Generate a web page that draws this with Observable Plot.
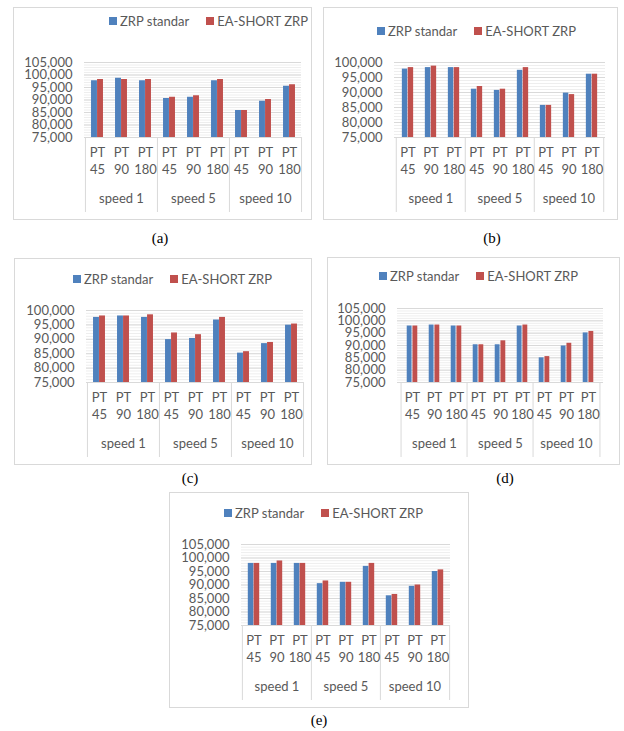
<!DOCTYPE html>
<html>
<head>
<meta charset="utf-8">
<script src="https://cdn.jsdelivr.net/npm/d3@7"></script>
<script src="https://cdn.jsdelivr.net/npm/@observablehq/plot@0.6"></script>
<style>
  html, body { margin: 0; padding: 0; background: #fff; }
  #page { position: relative; width: 624px; height: 731px; overflow: hidden; font-family: Lato, "Open Sans", sans-serif; }
  .frame { position: absolute; border: 1px solid #d9d9d9; box-sizing: border-box; }
  .legend { position: absolute; display: flex; align-items: center; height: 18px; font-size: 13px; color: #595959; white-space: nowrap; }
  .legend .sw { width: 8px; height: 8px; margin-right: 3px; }
  .legend .gap { width: 17px; }
  .caption { position: absolute; transform: translate(-50%, -50%); font-family: "Liberation Serif", "DejaVu Serif", serif; font-size: 15px; color: #000; }
  .chart { position: absolute; }
</style>
</head>
<body>
<div id="page"></div>
<script>
// Categories
const speeds = ["speed 1", "speed 5", "speed 10"];
const pts = ["PT 45", "PT 90", "PT 180"];
const series = ["ZRP standar", "EA-SHORT ZRP"];

// Values per panel, ordered speed 1 (PT 45, 90, 180), speed 5 (...), speed 10 (...)
const zrpA = [97700, 98700, 97700, 90600, 91100, 97700, 85800, 89500, 95500];
const eaA  = [98200, 98200, 98200, 91100, 91700, 98200, 85800, 90200, 96100];

const zrpB = [97800, 98300, 98300, 91100, 90700, 97400, 85700, 89800, 96100];
const eaB  = [98300, 98800, 98300, 92000, 91100, 98300, 85700, 89300, 96100];

const zrpC = [97600, 98100, 97600, 89900, 90300, 96700, 85200, 88500, 94900];
const eaC  = [98100, 98100, 98500, 92200, 91600, 97600, 85700, 88900, 95300];

const zrpD = [97900, 98300, 97900, 90300, 90300, 97900, 85000, 89800, 95100];
const eaD  = [97900, 98300, 97900, 90300, 91900, 98300, 85500, 90900, 95700];

const zrpE = [98000, 98000, 98000, 90500, 91000, 96900, 86000, 89500, 95000];
const eaE  = [98000, 98900, 98000, 91500, 91000, 98000, 86500, 90000, 95600];

// Axis range
const yMin = 75000;
const yMaxes = [105000, 100000, 100000, 105000, 105000];
const captions = ["(a)", "(b)", "(c)", "(d)", "(e)"];

const colors = {"ZRP standar": "#4f81bd", "EA-SHORT ZRP": "#c0504d"};

// Panel placement on the page: frame box, plot box, legend anchor, caption anchor
const layout = [
  {frame: [13, 7, 312, 220],  plot: [84, 62, 301, 137],  legend: [109, 21],  caption: [160, 238]},
  {frame: [323, 7, 618, 220], plot: [394, 62, 605, 137], legend: [377, 31],  caption: [492, 238]},
  {frame: [14, 258, 312, 465], plot: [86, 310, 303, 382], legend: [73, 279],  caption: [190, 478]},
  {frame: [327, 257, 620, 465], plot: [397, 308, 603, 382], legend: [379, 276], caption: [505, 478]},
  {frame: [169, 492, 469, 708], plot: [241, 544, 450, 625], legend: [224, 513], caption: [319, 720]}
];

const panelValues = [[zrpA, eaA], [zrpB, eaB], [zrpC, eaC], [zrpD, eaD], [zrpE, eaE]];

const keys = speeds.flatMap(s => pts.map(p => `${s}|${p}`));
const page = document.getElementById("page");

function drawPanel(i) {
  const L = layout[i];
  const [zrp, ea] = panelValues[i];
  const yMax = yMaxes[i];
  const [fl, ft, fr, fb] = L.frame;
  const [pl, ptop, pr, pb] = L.plot;

  const frame = document.createElement("div");
  frame.className = "frame";
  Object.assign(frame.style, {left: fl + "px", top: ft + "px", width: (fr - fl) + "px", height: (fb - ft) + "px"});
  page.appendChild(frame);

  // Legend
  const legend = document.createElement("div");
  legend.className = "legend";
  legend.style.left = L.legend[0] + "px";
  legend.style.top = (L.legend[1] - 9) + "px";
  series.forEach((s, j) => {
    if (j > 0) { const g = document.createElement("span"); g.className = "gap"; legend.appendChild(g); }
    const sw = document.createElement("span");
    sw.className = "sw";
    sw.style.background = colors[s];
    legend.appendChild(sw);
    const t = document.createElement("span");
    t.textContent = s;
    legend.appendChild(t);
  });
  page.appendChild(legend);

  // Chart
  const rows = keys.map((k, j) => {
    const [speed, pt] = k.split("|");
    return {key: k, speed, pt, zrp: zrp[j], ea: ea[j]};
  });
  const groupStarts = speeds.map(s => `${s}|${pts[0]}`);
  const groupMiddles = speeds.map(s => ({key: `${s}|${pts[1]}`, speed: s}));

  const svgLeft = fl + 1;
  const width = fr - fl - 2;
  const marginTop = 12, marginBottom = 82;
  const plotW = pr - pl, plotH = pb - ptop;
  const step = plotW / keys.length;
  const majorTicks = d3.range(yMin, yMax + 1, 5000);
  const minorTicks = d3.range(yMin, yMax + 1, 1000);

  const chart = Plot.plot({
    width,
    height: plotH + marginTop + marginBottom,
    marginLeft: pl - svgLeft,
    marginRight: svgLeft + width - pr,
    marginTop,
    marginBottom,
    style: {fontFamily: "Lato, 'Open Sans', sans-serif", fontSize: "13px", color: "#595959", background: "transparent", overflow: "visible"},
    x: {domain: keys, padding: 0, axis: null},
    y: {domain: [yMin, yMax], ticks: majorTicks, tickFormat: d3.format(","), tickSize: 0, tickPadding: 12, label: null},
    marks: [
      Plot.ruleY(minorTicks, {stroke: "#eeeeee"}),
      Plot.ruleY(majorTicks, {stroke: "#d9d9d9"}),
      Plot.barY(rows, {x: "key", y1: yMin, y2: "zrp", fill: colors["ZRP standar"], insetLeft: step * 0.25, insetRight: step * 0.5}),
      Plot.barY(rows, {x: "key", y1: yMin, y2: "ea", fill: colors["EA-SHORT ZRP"], insetLeft: step * 0.5, insetRight: step * 0.25}),
      // group separators of the two-level category axis
      Plot.ruleX(groupStarts, {dx: -step / 2, insetTop: plotH, insetBottom: -75, stroke: "#d9d9d9"}),
      Plot.ruleX([keys[keys.length - 1]], {dx: step / 2, insetTop: plotH, insetBottom: -75, stroke: "#d9d9d9"}),
      Plot.text(rows, {x: "key", text: d => d.pt.split(" ")[0], frameAnchor: "bottom", dy: 19, fill: "#595959"}),
      Plot.text(rows, {x: "key", text: d => d.pt.split(" ")[1], frameAnchor: "bottom", dy: 36, fill: "#595959"}),
      Plot.text(groupMiddles, {x: "key", text: "speed", frameAnchor: "bottom", dy: 65, fill: "#595959"})
    ]
  });
  chart.classList.add("chart");
  chart.style.left = svgLeft + "px";
  chart.style.top = (ptop - marginTop) + "px";
  chart.style.position = "absolute";
  page.appendChild(chart);

  const cap = document.createElement("div");
  cap.className = "caption";
  cap.style.left = L.caption[0] + "px";
  cap.style.top = L.caption[1] + "px";
  cap.textContent = captions[i];
  page.appendChild(cap);
}

layout.forEach((_, i) => drawPanel(i));
</script>
</body>
</html>
